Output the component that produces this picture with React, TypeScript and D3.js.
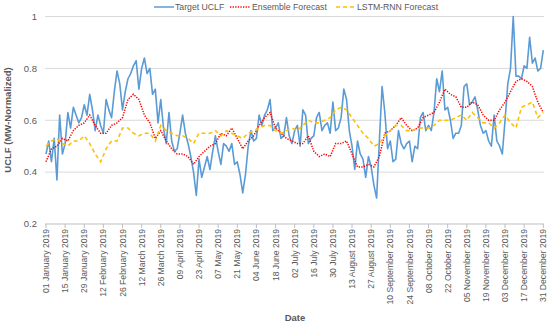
import React from 'react';
import * as d3 from 'd3';

// daily series sampled every 2 days (blue) and every 4 days (forecasts), starting 01 Jan 2019
const targetStep = 2;
const targetUCLF = [
  0.47, 0.52, 0.44, 0.53, 0.37, 0.62, 0.47, 0.51, 0.63, 0.57, 0.65, 0.62, 0.59, 0.61, 0.66, 0.62,
  0.70, 0.64, 0.56, 0.62, 0.58, 0.55, 0.68, 0.64, 0.61, 0.71, 0.79, 0.74, 0.64, 0.71, 0.76, 0.78,
  0.81, 0.83, 0.72, 0.80, 0.84, 0.78, 0.80, 0.70, 0.72, 0.59, 0.68, 0.57, 0.51, 0.63, 0.52, 0.48,
  0.49, 0.55, 0.62, 0.55, 0.51, 0.46, 0.40, 0.31, 0.45, 0.38, 0.42, 0.46, 0.41, 0.48, 0.54, 0.48,
  0.43, 0.51, 0.50, 0.48, 0.51, 0.43, 0.44, 0.39, 0.32, 0.39, 0.50, 0.56, 0.52, 0.53, 0.62, 0.58,
  0.62, 0.64, 0.68, 0.56, 0.57, 0.59, 0.53, 0.54, 0.61, 0.54, 0.51, 0.56, 0.58, 0.50, 0.64, 0.62,
  0.51, 0.53, 0.54, 0.61, 0.63, 0.56, 0.58, 0.59, 0.55, 0.67, 0.56, 0.57, 0.61, 0.72, 0.68, 0.56,
  0.50, 0.41, 0.52, 0.47, 0.45, 0.38, 0.46, 0.42, 0.35, 0.30, 0.52, 0.73, 0.63, 0.49, 0.52, 0.44,
  0.45, 0.56, 0.51, 0.49, 0.51, 0.52, 0.44, 0.50, 0.49, 0.61, 0.63, 0.56, 0.58, 0.56, 0.63, 0.76,
  0.71, 0.79, 0.64, 0.65, 0.60, 0.53, 0.55, 0.55, 0.58, 0.73, 0.74, 0.66, 0.67, 0.69, 0.64, 0.58,
  0.55, 0.56, 0.52, 0.50, 0.62, 0.52, 0.50, 0.47, 0.60, 0.74, 0.80, 1.00, 0.77, 0.77, 0.76, 0.81,
  0.80, 0.92, 0.82, 0.84, 0.79, 0.80, 0.87,
];

const forecastStep = 4;
const ensembleForecast = [
  0.44, 0.49, 0.50, 0.53, 0.52, 0.56, 0.58, 0.59, 0.62, 0.58, 0.55, 0.55, 0.58, 0.59, 0.61, 0.68,
  0.70, 0.68, 0.62, 0.59, 0.53, 0.56, 0.52, 0.49, 0.47, 0.47, 0.46, 0.43, 0.46, 0.48, 0.50, 0.51,
  0.55, 0.54, 0.57, 0.53, 0.49, 0.52, 0.54, 0.58, 0.61, 0.63, 0.57, 0.55, 0.53, 0.52, 0.51, 0.51,
  0.54, 0.48, 0.46, 0.47, 0.46, 0.51, 0.51, 0.52, 0.47, 0.42, 0.42, 0.43, 0.42, 0.46, 0.55, 0.56,
  0.58, 0.61, 0.58, 0.56, 0.57, 0.61, 0.62, 0.63, 0.67, 0.72, 0.70, 0.69, 0.65, 0.65, 0.67, 0.66,
  0.62, 0.60, 0.60, 0.64, 0.67, 0.71, 0.75, 0.76, 0.75, 0.73, 0.67, 0.63,
];
const lstmForecast = [
  0.50, 0.52, 0.53, 0.51, 0.50, 0.52, 0.52, 0.54, 0.51, 0.47, 0.44, 0.49, 0.52, 0.52, 0.57, 0.57,
  0.55, 0.54, 0.55, 0.55, 0.52, 0.58, 0.56, 0.55, 0.54, 0.54, 0.53, 0.51, 0.55, 0.55, 0.55, 0.56,
  0.54, 0.56, 0.55, 0.54, 0.53, 0.55, 0.56, 0.57, 0.58, 0.58, 0.56, 0.55, 0.56, 0.57, 0.56, 0.58,
  0.60, 0.59, 0.59, 0.60, 0.61, 0.64, 0.65, 0.64, 0.61, 0.58, 0.55, 0.53, 0.50, 0.51, 0.54, 0.56,
  0.58, 0.58, 0.56, 0.56, 0.57, 0.57, 0.57, 0.58, 0.60, 0.60, 0.60, 0.61, 0.62, 0.60, 0.63, 0.61,
  0.59, 0.59, 0.57, 0.59, 0.62, 0.59, 0.57, 0.65, 0.66, 0.67, 0.61, 0.63,
];

const yTicks = [0.2, 0.4, 0.6, 0.8, 1];
const tickStepDays = 14;
const seriesNames = ['Target UCLF', 'Ensemble Forecast', 'LSTM-RNN Forecast'];

const start = new Date(2019, 0, 1);
const end = new Date(2019, 11, 31);
const fmt = d3.timeFormat('%d %B %Y');
const font = '"Liberation Sans", Arial, sans-serif';

const App: React.FC = () => {
  const width = 550;
  const height = 335;
  const plotL = 45;
  const plotR = 544;

  const x = d3.scaleTime().domain([start, end]).range([46, 543.3]);
  const y = d3.scaleLinear().domain([0.2, 1]).range([224, 16.5]);

  const toPts = (vals: number[], step: number) =>
    vals.map((v, i) => ({ d: d3.timeDay.offset(start, i * step), v }));

  const line = d3
    .line<{ d: Date; v: number }>()
    .x(p => x(p.d))
    .y(p => y(p.v));

  const xTicks = d3.timeDay.range(start, d3.timeDay.offset(end, 1), tickStepDays);

  const legend = [
    { name: seriesNames[0], x0: 154, tx: 175, color: '#5B9BD5', dash: undefined, w: 1.5 },
    { name: seriesNames[1], x0: 230, tx: 252, color: '#FF0000', dash: '1.3,1.3', w: 1.5 },
    { name: seriesNames[2], x0: 336, tx: 357, color: '#FFC000', dash: '4,3', w: 1.6 },
  ];

  return (
    <svg width={width} height={height} style={{ position: 'absolute', left: 0, top: 0, background: '#fff' }}>
      {yTicks.map(t => (
        <g key={t}>
          <line x1={plotL} x2={plotR} y1={y(t)} y2={y(t)} stroke={t === 0.2 ? '#bfbfbf' : '#d9d9d9'} strokeWidth={1} />
          <text x={37} y={y(t)} dy="0.35em" textAnchor="end" fontSize={9.5} fill="#595959" fontFamily={font}>
            {t}
          </text>
        </g>
      ))}
      {xTicks.map(t => (
        <g key={t.toISOString()}>
          <line x1={x(t)} x2={x(t)} y1={224} y2={228} stroke="#bfbfbf" />
          <text
            transform={`translate(${x(t) + 3.1},229) rotate(-90)`}
            textAnchor="end"
            fontSize={8.6}
            fill="#595959"
            fontFamily={font}
          >
            {fmt(t)}
          </text>
        </g>
      ))}

      <path d={line(toPts(targetUCLF, targetStep)) || ''} fill="none" stroke="#5B9BD5" strokeWidth={1.6} strokeLinejoin="round" />
      <path d={line(toPts(ensembleForecast, forecastStep)) || ''} fill="none" stroke="#FF0000" strokeWidth={1.5} strokeDasharray="1.3,1.3" />
      <path d={line(toPts(lstmForecast, forecastStep)) || ''} fill="none" stroke="#FFC000" strokeWidth={1.6} strokeDasharray="4,3" />

      {legend.map(l => (
        <g key={l.name}>
          <line x1={l.x0} x2={l.x0 + 20} y1={7} y2={7} stroke={l.color} strokeWidth={l.w} strokeDasharray={l.dash} />
          <text x={l.tx} y={7} dy="0.35em" fontSize={8.7} fill="#595959" fontFamily={font}>
            {l.name}
          </text>
        </g>
      ))}

      <text
        transform={`translate(11,120) rotate(-90)`}
        textAnchor="middle"
        fontSize={9.5}
        fontWeight="bold"
        fill="#595959"
        fontFamily={font}
      >
        UCLF (MW-Normalized)
      </text>
      <text x={295} y={321} textAnchor="middle" fontSize={9.5} fontWeight="bold" fill="#595959" fontFamily={font}>
        Date
      </text>
    </svg>
  );
};

export default App;
